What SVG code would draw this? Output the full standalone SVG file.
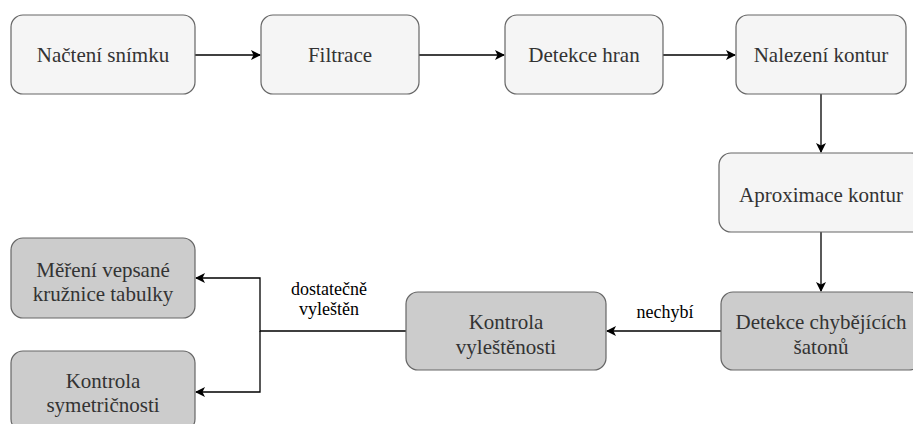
<svg xmlns="http://www.w3.org/2000/svg" width="913" height="424" viewBox="0 0 913 424">
<style>
.box{stroke:#666666;stroke-width:1.2}
.light{fill:#f5f5f5}
.dark{fill:#cccccc}
.edge{fill:none;stroke:#000000;stroke-width:1.3}
</style>
<defs>
<marker id="arr" viewBox="0 0 10 10" refX="9" refY="5" markerWidth="10" markerHeight="10" markerUnits="userSpaceOnUse" orient="auto">
<path d="M0,0 L10,5 L0,10 L2.5,5 Z" fill="#000000"/>
</marker>
</defs>
<rect width="913" height="424" fill="#ffffff"/>
<g id="connectors">
<path class="edge" d="M195,55 H260" marker-end="url(#arr)"/>
<path class="edge" d="M419,55 H504" marker-end="url(#arr)"/>
<path class="edge" d="M663,55 H735" marker-end="url(#arr)"/>
<path class="edge" d="M821,94 V152" marker-end="url(#arr)"/>
<path class="edge" d="M821,232 V291" marker-end="url(#arr)"/>
<path class="edge" d="M721,331 H607" marker-end="url(#arr)"/>
<path class="edge" d="M406,331 H260 V278 H196" marker-end="url(#arr)"/>
<path class="edge" d="M260,331 V392 H196" marker-end="url(#arr)"/>
<g font-family="'Liberation Serif', serif" font-size="18" fill="#000000" text-anchor="middle">
<text x="665" y="318">nechybí</text>
<text x="329" y="295">dostatečně</text>
<text x="329" y="315">vyleštěn</text>
</g>
</g>
<g font-family="'Liberation Serif', serif" font-size="21" fill="#333333" text-anchor="middle">
<g id="n1"><rect class="box light" x="11" y="15" width="184" height="79" rx="12"/><text x="103" y="62">Načtení snímku</text></g>
<g id="n2"><rect class="box light" x="261" y="15" width="158" height="79" rx="12"/><text x="340" y="62">Filtrace</text></g>
<g id="n3"><rect class="box light" x="505" y="15" width="158" height="79" rx="12"/><text x="584" y="62">Detekce hran</text></g>
<g id="n4"><rect class="box light" x="736" y="15" width="170" height="79" rx="12"/><text x="821" y="62">Nalezení kontur</text></g>
<g id="n5"><rect class="box light" x="719" y="153" width="204" height="79" rx="12"/><text x="821" y="202">Aproximace kontur</text></g>
<g id="n6"><rect class="box dark" x="721" y="292" width="200" height="78" rx="12"/><text x="821" y="329">Detekce chybějících</text><text x="821" y="354">šatonů</text></g>
<g id="n7"><rect class="box dark" x="406" y="292" width="200" height="78" rx="12"/><text x="506" y="329">Kontrola</text><text x="506" y="354">vyleštěnosti</text></g>
<g id="n8"><rect class="box dark" x="11" y="238" width="184" height="80" rx="12"/><text x="103" y="277">Měření vepsané</text><text x="103" y="301">kružnice tabulky</text></g>
<g id="n9"><rect class="box dark" x="11" y="351" width="184" height="80" rx="12"/><text x="103" y="388">Kontrola</text><text x="103" y="412">symetričnosti</text></g>
</g>
</svg>
